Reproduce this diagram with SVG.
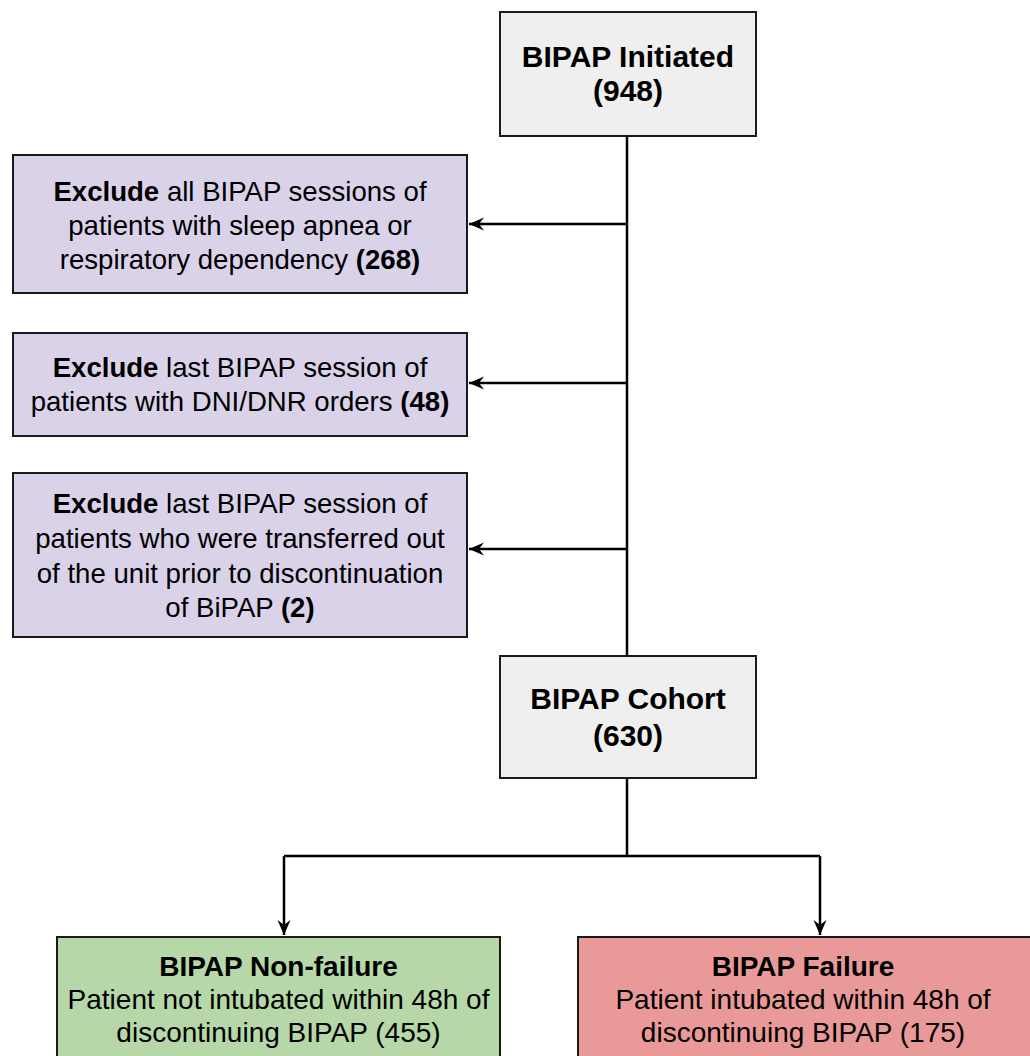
<svg xmlns="http://www.w3.org/2000/svg" width="1030" height="1056" viewBox="0 0 1030 1056">
<style>
text{font-family:"Liberation Sans",Arial,sans-serif;fill:#000;text-anchor:middle}
.box{stroke:#1a1a1a;stroke-width:2}
.grey{fill:#efefef}
.purple{fill:#d9d2e9}
.green{fill:#b6d7a8}
.red{fill:#ea9999}
.t1{font-size:30px;font-weight:bold}
.t2{font-size:27.6px}
.t3{font-size:28px}
.b{font-weight:bold}
.con{fill:none;stroke:#000;stroke-width:2.5}
</style>
<defs>
<marker id="arr" markerUnits="userSpaceOnUse" markerWidth="18" markerHeight="16" viewBox="-16 -8 18 16" refX="0" refY="0" orient="auto">
<path d="M0,0 L-15,-6.5 L-10,0 L-15,6.5 Z" fill="#000"/>
</marker>
</defs>
<g id="connectors">
<path class="con" d="M627,136 V656"/>
<path class="con" d="M627,224 H469" marker-end="url(#arr)"/>
<path class="con" d="M627,383 H469" marker-end="url(#arr)"/>
<path class="con" d="M627,549 H469" marker-end="url(#arr)"/>
<path class="con" d="M627,778 V856"/>
<path class="con" d="M284,856 H820"/>
<path class="con" d="M284,856 V935" marker-end="url(#arr)"/>
<path class="con" d="M820,856 V935" marker-end="url(#arr)"/>
</g>
<g id="initiated">
<rect class="box grey" x="500" y="12" width="256" height="124"/>
<text class="t1" x="628" y="67">BIPAP Initiated</text>
<text class="t1" x="628" y="101">(948)</text>
</g>
<g id="exclude1">
<rect class="box purple" x="13" y="155" width="454" height="138"/>
<text class="t2" x="240" y="201"><tspan class="b">Exclude</tspan> all BIPAP sessions of</text>
<text class="t2" x="240" y="235">patients with sleep apnea or</text>
<text class="t2" x="240" y="269">respiratory dependency <tspan class="b">(268)</tspan></text>
</g>
<g id="exclude2">
<rect class="box purple" x="13" y="333" width="454" height="103"/>
<text class="t2" x="240" y="377"><tspan class="b">Exclude</tspan> last BIPAP session of</text>
<text class="t2" x="240" y="411">patients with DNI/DNR orders <tspan class="b">(48)</tspan></text>
</g>
<g id="exclude3">
<rect class="box purple" x="13" y="473" width="454" height="164"/>
<text class="t2" x="240" y="513"><tspan class="b">Exclude</tspan> last BIPAP session of</text>
<text class="t2" x="240" y="548">patients who were transferred out</text>
<text class="t2" x="240" y="583">of the unit prior to discontinuation</text>
<text class="t2" x="240" y="617">of BiPAP <tspan class="b">(2)</tspan></text>
</g>
<g id="cohort">
<rect class="box grey" x="500" y="656" width="256" height="122"/>
<text class="t1" x="628" y="709">BIPAP Cohort</text>
<text class="t1" x="628" y="746">(630)</text>
</g>
<g id="nonfailure">
<rect class="box green" x="57" y="937" width="443" height="140"/>
<text class="t3 b" x="278.5" y="976">BIPAP Non-failure</text>
<text class="t3" x="278.5" y="1009">Patient not intubated within 48h of</text>
<text class="t3" x="278.5" y="1042">discontinuing BIPAP (455)</text>
</g>
<g id="failure">
<rect class="box red" x="578" y="937" width="460" height="140"/>
<text class="t3 b" x="803" y="976">BIPAP Failure</text>
<text class="t3" x="803" y="1009">Patient intubated within 48h of</text>
<text class="t3" x="803" y="1042">discontinuing BIPAP (175)</text>
</g>
</svg>
